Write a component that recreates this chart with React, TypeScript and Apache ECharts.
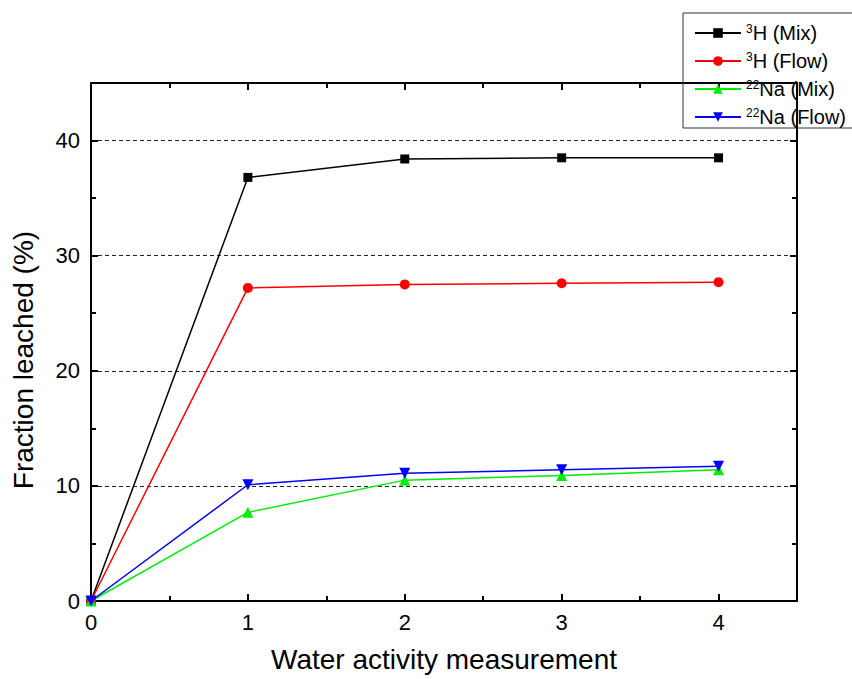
import React, { useEffect, useRef } from "react";
import * as echarts from "echarts";

const xValues = [0, 1, 2, 3, 4];
const h3Mix = [0, 36.8, 38.4, 38.5, 38.5];
const h3Flow = [0, 27.2, 27.5, 27.6, 27.7];
const na22Mix = [0, 7.7, 10.5, 10.9, 11.4];
const na22Flow = [0, 10.1, 11.1, 11.4, 11.7];
const seriesNames = ["3H (Mix)", "3H (Flow)", "22Na (Mix)", "22Na (Flow)"];
const xTitle = "Water activity measurement";
const yTitle = "Fraction leached (%)";

const FONT = "Liberation Sans, Arial, sans-serif";

export default function App() {
  const ref = useRef<HTMLDivElement>(null);
  useEffect(() => {
    if (!ref.current) return;
    const chart = echarts.init(ref.current, undefined, { renderer: "svg" });
    const pair = (ys: number[]) => xValues.map((x, i) => [x, ys[i]]);
    const axisLine = { show: true, onZero: false, lineStyle: { color: "#000", width: 2 } };
    const tick = { show: true, inside: true, length: 7, lineStyle: { color: "#000", width: 2 } };
    const minor = { show: true, splitNumber: 2, length: 5, lineStyle: { color: "#000", width: 2 } };
    const mk = (name: string, data: number[], color: string, symbol: string, size: number, rotate = 0) => ({
      type: "line",
      name,
      data: pair(data),
      symbol,
      symbolSize: size,
      symbolRotate: rotate,
      lineStyle: { color, width: 1.5 },
      itemStyle: { color },
      z: 3,
    });
    chart.setOption({
      animation: false,
      textStyle: { fontFamily: FONT },
      grid: { left: 91, right: 55, top: 83, bottom: 78, containLabel: false, outerBoundsMode: "none" },
      graphic: [
        {
          type: "text",
          x: 23,
          y: 360,
          rotation: Math.PI / 2,
          style: {
            text: yTitle,
            fontSize: 28,
            fontFamily: FONT,
            fill: "#000",
            textAlign: "center",
            textVerticalAlign: "middle",
          },
        },
      ],
      legend: {
        show: true,
        orient: "vertical",
        left: 683,
        top: 13,
        width: 169,
        padding: [10, 8, 1, 11],
        itemGap: 8,
        itemWidth: 46,
        itemHeight: 12,
        borderColor: "#333",
        borderWidth: 1,
        data: seriesNames,
        formatter: (n: string) => {
          const m = n.match(/^(\d+)(.*)$/);
          return m ? `{sup|${m[1]}}{main|${m[2]}}` : n;
        },
        textStyle: {
          fontFamily: FONT,
          color: "#000",
          rich: {
            sup: { fontSize: 12, fontFamily: FONT, color: "#000", verticalAlign: "top", lineHeight: 20 },
            main: { fontSize: 20, fontFamily: FONT, color: "#000", lineHeight: 20 },
          },
        },
      },
      xAxis: [
        {
          type: "value",
          min: 0,
          max: 4.5,
          interval: 1,
          name: xTitle,
          nameLocation: "middle",
          nameGap: 44,
          nameTextStyle: { fontSize: 28, fontFamily: FONT, color: "#000" },
          axisLine,
          axisTick: tick,
          minorTick: minor,
          splitLine: { show: false },
          axisLabel: {
            fontSize: 22,
            fontFamily: FONT,
            color: "#000",
            margin: 10,
            formatter: (v: number) => (Number.isInteger(v) ? String(v) : ""),
          },
        },
        {
          type: "value",
          position: "top",
          min: 0,
          max: 4.5,
          interval: 1,
          axisLine,
          axisTick: tick,
          minorTick: minor,
          splitLine: { show: false },
          axisLabel: { show: false },
        },
      ],
      yAxis: [
        {
          type: "value",
          min: 0,
          max: 45,
          interval: 10,
          axisLine,
          axisTick: tick,
          minorTick: minor,
          splitLine: { show: true, lineStyle: { color: "#222", type: [4, 3], width: 1 } },
          axisLabel: {
            fontSize: 22,
            fontFamily: FONT,
            color: "#000",
            margin: 11,
            formatter: (v: number) => (v % 10 === 0 ? String(v) : ""),
          },
        },
        {
          type: "value",
          position: "right",
          min: 0,
          max: 45,
          interval: 10,
          axisLine,
          axisTick: tick,
          minorTick: minor,
          splitLine: { show: false },
          axisLabel: { show: false },
        },
      ],
      series: [
        mk(seriesNames[0], h3Mix, "#000000", "rect", 9),
        mk(seriesNames[1], h3Flow, "#ff0000", "circle", 10),
        mk(seriesNames[2], na22Mix, "#00ee00", "triangle", 11),
        mk(seriesNames[3], na22Flow, "#0000ff", "triangle", 11, 180),
      ],
    });
    return () => chart.dispose();
  }, []);
  return (
    <div
      ref={ref}
      style={{ position: "fixed", left: 0, top: 0, width: 852, height: 679, background: "#fff" }}
    />
  );
}
